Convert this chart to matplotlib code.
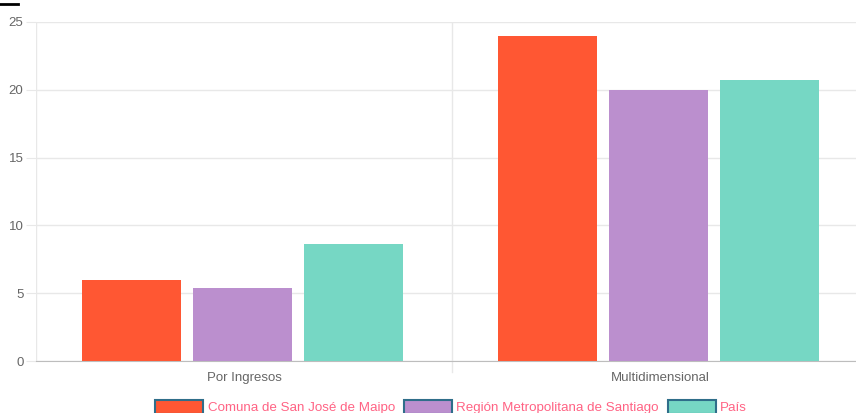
import matplotlib.pyplot as plt
import numpy as np

plt.rcParams['font.family'] = ['Liberation Sans', 'DejaVu Sans']

# poverty rates (%) by measure
categorias = ['Por Ingresos', 'Multidimensional']
series = ['Comuna de San José de Maipo', 'Región Metropolitana de Santiago', 'País']
comuna = [6.0, 24.0]
region = [5.4, 20.0]
pais = [8.6, 20.7]
colores = ['#FF5733', '#BB8FCE', '#76D7C4']

fig = plt.figure(figsize=(8.56, 4.13), dpi=100)
ax = fig.add_axes([36/856, 52/413, 832/856, 339/413])

x = np.arange(len(categorias))
ancho = 0.238
paso = 0.267
desfase = -0.004
for i, (vals, col) in enumerate(zip([comuna, region, pais], colores)):
    ax.bar(x + (i - 1) * paso + desfase, vals, width=ancho, color=col, zorder=3,
           linewidth=0)

ax.set_xlim(-0.5, 1.5)
ax.set_ylim(0, 25)
ax.set_yticks([0, 5, 10, 15, 20, 25])
ax.grid(axis='y', color='#e8e8e8', linewidth=1, zorder=0)

# vertical separators between categories
for xb in [-0.5, 0.5, 1.5]:
    ax.axvline(xb, color='#e8e8e8', linewidth=1, zorder=0)
    if xb > -0.5:
        ax.plot([xb, xb], [0, -0.8], color='#e8e8e8', linewidth=1, clip_on=False)

ax.set_xticks(x)
ax.set_xticklabels(categorias)
for s in ['top', 'right', 'left']:
    ax.spines[s].set_visible(False)
ax.spines['bottom'].set_color('#bdbdbd')
ax.tick_params(axis='x', length=0, pad=8, labelsize=9.5, labelcolor='#666666')
ax.tick_params(axis='y', length=7.5, color='#e8e8e8', pad=1.5, labelsize=9.5, labelcolor='#666666')

handles = [plt.Rectangle((0, 0), 1, 1, facecolor=c, edgecolor='#2f6e8a', linewidth=1.5) for c in colores]
leg = fig.legend(handles, series, loc='center', bbox_to_anchor=(0.527, 6/413), ncol=3,
                 frameon=False, fontsize=9.6, labelcolor='#ff6384',
                 handlelength=3.6, handleheight=1.2, handletextpad=0.35,
                 columnspacing=0.65, borderpad=0)

fig.add_artist(plt.Line2D([0, 18/856], [409/413, 409/413], color='black', linewidth=2))

fig.savefig('out.png', dpi=100)
